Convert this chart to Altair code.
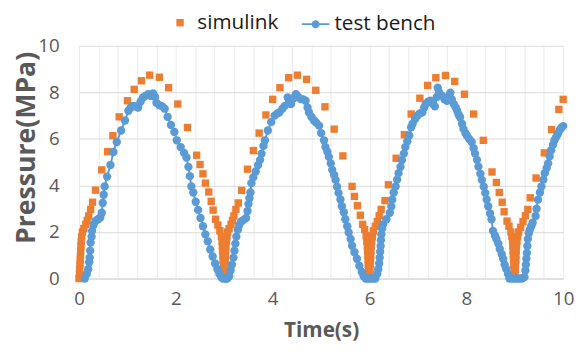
import altair as alt
import pandas as pd

# ---------------- data ----------------
# simulink (orange squares)
sim_t = [
    0.0, 0.01, 0.015, 0.02, 0.025, 0.03, 0.035, 0.04, 0.045, 0.055,
    0.07, 0.1, 0.14, 0.17, 0.2, 0.24, 0.28, 0.34, 0.47, 0.59,
    0.70, 0.83, 1.0, 1.14, 1.29, 1.46, 1.66, 1.85, 2.04, 2.24,
    2.43, 2.5, 2.56, 2.61, 2.68, 2.73, 2.77, 2.82, 2.87, 2.91,
    2.94, 2.955, 2.96, 2.965, 2.97, 2.975, 2.98, 2.985, 2.99, 3.0,
    3.005, 3.01, 3.015, 3.02, 3.025, 3.03, 3.035, 3.045, 3.055, 3.07,
    3.1, 3.14, 3.17, 3.2, 3.24, 3.29, 3.36, 3.48, 3.6, 3.72,
    3.86, 4.0, 4.15, 4.33, 4.51, 4.7, 4.89, 5.08, 5.27, 5.45,
    5.64, 5.69, 5.75, 5.81, 5.86, 5.9, 5.93, 5.945, 5.955, 5.96,
    5.965, 5.97, 5.975, 5.98, 5.985, 5.99, 6.0,
    6.005, 6.01, 6.015, 6.02, 6.025, 6.03, 6.035, 6.045, 6.06, 6.08,
    6.12, 6.16, 6.2, 6.24, 6.32, 6.39, 6.55, 6.72, 6.86, 7.04,
    7.2, 7.37, 7.57, 7.76, 7.96, 8.15, 8.35, 8.53, 8.62, 8.68,
    8.74, 8.78, 8.84, 8.88, 8.92, 8.94, 8.955, 8.96, 8.965, 8.97,
    8.975, 8.98, 8.985, 8.99, 9.0,
    9.005, 9.01, 9.015, 9.02, 9.025, 9.03, 9.035, 9.045, 9.06, 9.08,
    9.12, 9.17, 9.22, 9.27, 9.32, 9.44, 9.61, 9.76, 9.91, 10.0,
]
sim_p = [
    0.0, 0.2, 0.4, 0.6, 0.8, 1.0, 1.2, 1.4, 1.6, 1.8,
    2.0, 2.15, 2.33, 2.5, 2.69, 2.97, 3.28, 3.8, 4.67, 5.45,
    6.14, 6.95, 7.64, 8.13, 8.5, 8.74, 8.65, 8.2, 7.5, 6.49,
    5.3, 4.9, 4.5, 4.1, 3.72, 3.32, 2.94, 2.55, 2.3, 2.05,
    1.8, 1.6, 1.4, 1.2, 1.0, 0.8, 0.6, 0.4, 0.2, 0.0,
    0.2, 0.4, 0.6, 0.8, 1.0, 1.2, 1.4, 1.6, 1.8, 2.0,
    2.15, 2.33, 2.5, 2.69, 2.97, 3.25, 3.79, 4.7, 5.5, 6.25,
    7.03, 7.7, 8.2, 8.63, 8.74, 8.56, 8.09, 7.38, 6.42, 5.27,
    3.96, 3.53, 3.13, 2.72, 2.33, 2.1, 1.85, 1.6, 1.4, 1.2,
    1.0, 0.8, 0.6, 0.45, 0.3, 0.15, 0.0,
    0.2, 0.4, 0.6, 0.8, 1.0, 1.2, 1.4, 1.6, 1.8, 2.05,
    2.25, 2.45, 2.7, 2.97, 3.35, 4.03, 5.17, 6.18, 7.07, 7.75,
    8.3, 8.63, 8.73, 8.47, 7.92, 7.07, 5.94, 4.58, 4.13, 3.7,
    3.28, 2.87, 2.47, 2.25, 2.0, 1.8, 1.6, 1.4, 1.2, 1.0,
    0.8, 0.6, 0.4, 0.2, 0.0,
    0.2, 0.4, 0.6, 0.8, 1.0, 1.2, 1.4, 1.6, 1.8, 2.0,
    2.2, 2.45, 2.7, 2.97, 3.47, 4.32, 5.4, 6.4, 7.27, 7.7,
]

# test bench (blue circles + line)
tb_t = [
    0.12, 0.16, 0.19, 0.21, 0.22, 0.23, 0.24, 0.26, 0.27, 0.3,
    0.34, 0.39, 0.44, 0.47, 0.49, 0.51, 0.53, 0.58, 0.65, 0.71,
    0.78, 0.87, 0.95, 1.02, 1.07, 1.12, 1.17, 1.22, 1.27, 1.32,
    1.37, 1.43, 1.48, 1.53, 1.57, 1.6, 1.66, 1.72, 1.77, 1.83,
    1.9, 1.97, 2.02, 2.1, 2.17, 2.22, 2.26, 2.29, 2.32, 2.36,
    2.41, 2.46, 2.51, 2.56, 2.61, 2.66, 2.71, 2.76, 2.81, 2.86,
    2.9, 2.94, 2.98, 3.02, 3.06,
    3.1, 3.13, 3.16, 3.19, 3.21, 3.23, 3.25, 3.28, 3.31, 3.35,
    3.4, 3.45, 3.48, 3.5, 3.52, 3.54, 3.56, 3.6, 3.65, 3.7,
    3.74, 3.77, 3.81, 3.84, 3.9, 3.97, 4.04, 4.1, 4.14, 4.2,
    4.25, 4.31, 4.35, 4.38, 4.43, 4.48, 4.53, 4.58, 4.63, 4.68,
    4.72, 4.75, 4.8, 4.85, 4.9, 4.96, 5.0, 5.06, 5.09, 5.13,
    5.16, 5.2, 5.23, 5.27, 5.3, 5.33, 5.36, 5.4, 5.43, 5.47,
    5.5, 5.54, 5.57, 5.61, 5.64, 5.69, 5.74, 5.79, 5.84, 5.88,
    5.92, 5.97, 6.02, 6.07, 6.12,
    6.16, 6.18, 6.2, 6.21, 6.22, 6.23, 6.235, 6.245, 6.26, 6.28,
    6.35, 6.42, 6.45, 6.47, 6.5, 6.54, 6.57, 6.6, 6.64, 6.67,
    6.71, 6.74, 6.78, 6.82, 6.86, 6.89, 6.94, 6.99, 7.04, 7.09,
    7.13, 7.16, 7.21, 7.26, 7.31, 7.35, 7.39, 7.41, 7.44, 7.5,
    7.55, 7.6, 7.64, 7.67, 7.7, 7.74, 7.78, 7.81, 7.84, 7.87,
    7.91, 7.94, 7.98, 8.01, 8.06, 8.11, 8.15, 8.18, 8.22, 8.25,
    8.29, 8.32, 8.36, 8.39, 8.42, 8.45, 8.49, 8.52, 8.55, 8.59,
    8.62, 8.66, 8.69, 8.73, 8.76, 8.79, 8.82, 8.86, 8.89, 8.95,
    9.0, 9.05, 9.1, 9.15,
    9.2, 9.22, 9.23, 9.24, 9.25, 9.26, 9.27, 9.29, 9.31, 9.34,
    9.37, 9.43, 9.45, 9.48, 9.52, 9.55, 9.59, 9.62, 9.66, 9.69,
    9.72, 9.75, 9.79, 9.82, 9.86, 9.89, 9.93, 9.96, 10.0,
]
tb_p = [
    0.0, 0.2, 0.4, 0.7, 0.9, 1.2, 1.55, 1.8, 2.05, 2.3,
    2.47, 2.55, 2.62, 2.83, 3.25, 3.6, 3.96, 4.38, 4.88, 5.44,
    5.87, 6.36, 6.79, 7.21, 7.35, 7.42, 7.4, 7.35, 7.6, 7.78,
    7.85, 7.92, 7.85, 7.95, 7.8, 7.55, 7.45, 7.4, 7.3, 6.95,
    6.6, 6.3, 5.94, 5.65, 5.4, 5.2, 4.8, 4.4, 3.96, 3.7,
    3.3, 2.95, 2.6, 2.25, 1.9, 1.6, 1.25, 0.95, 0.65, 0.4,
    0.2, 0.05, 0.0, 0.0, 0.0,
    0.1, 0.35, 0.6, 0.9, 1.2, 1.5, 1.8, 2.1, 2.3, 2.45,
    2.52, 2.6, 2.9, 3.2, 3.45, 3.7, 4.1, 4.35, 4.6, 4.88,
    5.1, 5.37, 5.7, 5.94, 6.36, 6.72, 7.0, 7.1, 7.14, 7.3,
    7.42, 7.78, 7.6, 7.5, 7.75, 7.92, 7.8, 7.71, 7.7, 7.64,
    7.35, 7.14, 6.95, 6.8, 6.7, 6.57, 6.25, 5.94, 5.65, 5.45,
    5.23, 4.95, 4.67, 4.45, 4.24, 3.95, 3.68, 3.4, 3.11, 2.85,
    2.55, 2.25, 1.98, 1.7, 1.41, 1.13, 0.85, 0.55, 0.28, 0.1,
    0.0, 0.0, 0.0, 0.0, 0.0,
    0.2, 0.4, 0.65, 0.9, 1.15, 1.4, 1.65, 1.9, 2.15, 2.33,
    2.55, 2.83, 3.1, 3.39, 3.7, 3.96, 4.25, 4.53, 4.8, 5.09,
    5.37, 5.65, 5.9, 6.15, 6.5, 6.65, 6.85, 7.0, 7.1, 7.14,
    7.35, 7.5, 7.6, 7.64, 7.5, 7.4, 7.8, 8.2, 8.0, 7.85,
    7.7, 7.64, 7.85, 7.99, 7.7, 7.5, 7.35, 7.21, 7.05, 6.93,
    6.65, 6.43, 6.25, 6.15, 6.0, 5.87, 5.6, 5.37, 5.1, 4.81,
    4.5, 4.24, 3.95, 3.68, 3.4, 3.11, 2.8, 2.55, 2.05, 1.85,
    1.7, 1.5, 1.27, 1.05, 0.85, 0.6, 0.42, 0.2, 0.0, 0.0,
    0.0, 0.0, 0.0, 0.0,
    0.07, 0.35, 0.6, 0.85, 1.1, 1.4, 1.7, 1.95, 2.1, 2.25,
    2.4, 2.69, 3.0, 3.39, 3.7, 3.96, 4.25, 4.53, 4.75, 4.95,
    5.25, 5.51, 5.75, 5.94, 6.1, 6.22, 6.38, 6.48, 6.55,
]

series_names = ["simulink", "test bench"]
series_colors = ["#ED7D31", "#5B9BD5"]
y_ticks = [0, 2, 4, 6, 8, 10]
x_grid = [0, 0.4, 0.8, 1.2, 1.6, 2, 2.4, 2.8, 3.2, 3.6, 4, 4.4, 4.8, 5.2, 5.6,
          6, 6.4, 6.8, 7.2, 7.6, 8, 8.4, 8.8, 9.2, 9.6, 10]

sim_df = pd.DataFrame({"t": sim_t, "p": sim_p, "series": series_names[0]})
tb_df = pd.DataFrame({"t": tb_t, "p": tb_p, "series": series_names[1]})

FONT = "Open Sans"
GREY = "#595959"

x_enc = alt.X(
    "t:Q",
    scale=alt.Scale(domain=[0, 10], nice=False),
    axis=alt.Axis(
        values=x_grid,
        labelExpr="datum.value % 2 == 0 ? format(datum.value, 'd') : ''",
        title="Time(s)",
        grid=True, gridColor="#EBEBEB", gridWidth=1,
        ticks=False, tickSize=0,
        domainColor="#D9D9D9", domainWidth=1,
        labelFontSize=19, labelColor=GREY, labelPadding=11,
        labelOverlap=False, labelFlush=False,
        titleFontSize=21, titleFontWeight="bold", titleColor=GREY,
        titlePadding=12,
    ),
)
y_enc = alt.Y(
    "p:Q",
    scale=alt.Scale(domain=[0, 10], nice=False),
    axis=alt.Axis(
        values=y_ticks,
        title="Pressure(MPa)",
        grid=True, gridColor="#D9D9D9", gridWidth=1,
        ticks=False, tickSize=0, domain=False,
        labelFontSize=19, labelColor=GREY, labelPadding=20,
        titleFontSize=27, titleFontWeight="bold", titleColor=GREY,
        titleX=-53, titleY=103, titleAlign="center", titleBaseline="middle",
        titleAngle=270,
    ),
)

sim_layer = alt.Chart(sim_df).mark_point(
    shape="square", filled=True, size=56, opacity=1
).encode(
    x=x_enc, y=y_enc,
    color=alt.Color(
        "series:N",
        scale=alt.Scale(domain=[series_names[0]], range=[series_colors[0]]),
        legend=alt.Legend(
            orient="none", legendX=92, legendY=-34, direction="horizontal",
            title=None, symbolType="square", symbolSize=56,
            labelFontSize=21, labelColor="#1a1a1a", labelOffset=7, padding=0,
        ),
    ),
)

tb_line = alt.Chart(tb_df).mark_line(strokeWidth=2, color=series_colors[1]).encode(
    x=x_enc, y=y_enc, order="t:Q"
)

tb_path = ("M-1,-0.07L1,-0.07L1,0.07L-1,0.07Z "
           "M0.29,0A0.29,0.29 0 1,1 -0.29,0A0.29,0.29 0 1,1 0.29,0Z")

tb_points = alt.Chart(tb_df).mark_circle(size=72, opacity=1).encode(
    x=x_enc, y=y_enc,
    color=alt.Color(
        "series:N",
        scale=alt.Scale(domain=[series_names[1]], range=[series_colors[1]]),
        legend=alt.Legend(
            orient="none", legendX=225, legendY=-37, direction="horizontal",
            title=None, symbolType=tb_path, symbolSize=784,
            labelFontSize=21, labelColor="#1a1a1a", labelOffset=4, padding=0,
        ),
    ),
)

chart = (
    alt.layer(sim_layer, tb_line, tb_points)
    .resolve_scale(color="independent")
    .properties(
        width=491, height=236,
        autosize=alt.AutoSizeParams(type="none"),
        padding={"left": 72, "top": 36, "right": 13, "bottom": 64},
    )
    .configure(font=FONT)
    .configure_view(stroke=None)
)

chart.save("out.html", embed_options={"renderer": "svg", "actions": False})
